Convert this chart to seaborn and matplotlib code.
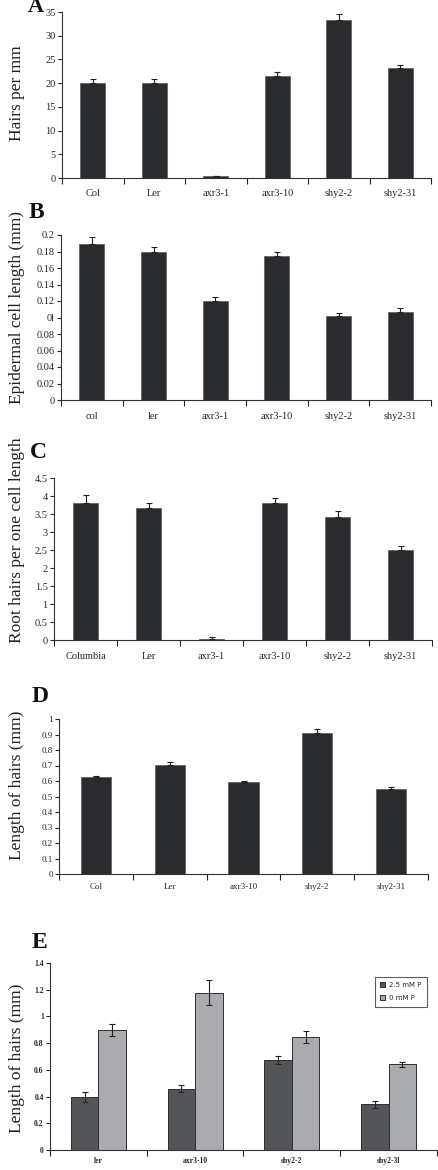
import numpy as np
import pandas as pd
import matplotlib
matplotlib.use("Agg")
import matplotlib.pyplot as plt
import seaborn as sns

sns.set_style("ticks")
plt.rcParams["font.family"] = ["Liberation Serif", "DejaVu Serif"]

# panel A: hairs per mm
a_labels = ["Col", "Ler", "axr3-1", "axr3-10", "shy2-2", "shy2-31"]
a_values = [20.0, 20.0, 0.4, 21.6, 33.4, 23.1]
a_err = [0.8, 0.8, 0.1, 0.7, 1.1, 0.7]

# panel B: epidermal cell length
b_labels = ["col", "ler", "axr3-1", "axr3-10", "shy2-2", "shy2-31"]
b_values = [0.189, 0.180, 0.120, 0.175, 0.102, 0.107]
b_err = [0.008, 0.006, 0.0045, 0.0045, 0.003, 0.0045]
b_ticks = [0, 0.02, 0.04, 0.06, 0.08, 0.1, 0.12, 0.14, 0.16, 0.18, 0.2]
b_ticklabels = ["0", "0.02", "0.04", "0.06", "0.08", "0l", "0.12", "0.14", "0.16", "0.18", "0.2"]

# panel C: root hairs per one cell length
c_labels = ["Columbia", "Ler", "axr3-1", "axr3-10", "shy2-2", "shy2-31"]
c_values = [3.80, 3.67, 0.04, 3.80, 3.42, 2.51]
c_err = [0.22, 0.13, 0.03, 0.14, 0.16, 0.10]

# panel D: length of hairs
d_labels = ["Col", "Ler", "axr3-10", "shy2-2", "shy2-31"]
d_values = [0.623, 0.706, 0.591, 0.912, 0.551]
d_err = [0.011, 0.018, 0.010, 0.021, 0.008]

# panel E: length of hairs at two phosphate levels
e_labels = ["ler", "axr3-10", "shy2-2", "shy2-3l"]
e_high = [0.395, 0.460, 0.672, 0.341]
e_high_err = [0.036, 0.028, 0.030, 0.025]
e_low = [0.900, 1.179, 0.846, 0.642]
e_low_err = [0.047, 0.090, 0.046, 0.020]
e_levels = ["2.5 mM P", "0 mM P"]

BAR = "#2a2b2f"
W, H = 438, 1170
fig = plt.figure(figsize=(W / 100, H / 100), dpi=100)


def box(left, top, right, bottom):
    return [left / W, 1 - bottom / H, (right - left) / W, (bottom - top) / H]


def style_axis(ax, n, ymax, yticks, tick_fs, pad, yticklabels=None):
    sns.despine(ax=ax)
    ax.set_xlim(-0.5, n - 0.5)
    ax.set_ylim(0, ymax)
    ax.set_yticks(yticks)
    if yticklabels is not None:
        ax.set_yticklabels(yticklabels)
    ax.set_xticks(np.arange(-0.5, n, 1), minor=True)
    ax.tick_params(axis="x", which="major", length=0, pad=pad, labelsize=tick_fs)
    ax.tick_params(axis="x", which="minor", length=4, width=0.8, direction="out")
    ax.tick_params(axis="y", length=3, width=0.8, pad=1.5, labelsize=tick_fs)
    ax.set_xlabel("")
    ax.set_ylabel("")
    for s in ("left", "bottom"):
        ax.spines[s].set_linewidth(0.8)
        ax.spines[s].set_color("#333333")


def single_panel(rect, labels, values, err, ymax, yticks, tick_fs, pad, yticklabels=None):
    ax = fig.add_axes(rect)
    sns.barplot(x=labels, y=values, color=BAR, saturation=1, width=0.41,
                edgecolor="#5a5a5e", linewidth=0.5, errorbar=None, ax=ax)
    ax.errorbar(np.arange(len(labels)), values, yerr=[np.zeros(len(err)), err],
                fmt="none", ecolor="#222222", elinewidth=0.8, capsize=2.5, capthick=0.8)
    style_axis(ax, len(labels), ymax, yticks, tick_fs, pad, yticklabels)
    return ax


def ylabel(text, ycenter, size=12.5):
    fig.text(17 / W, 1 - ycenter / H, text, rotation=90, ha="center", va="center",
             fontsize=size, color="#222222")


def letter(text, x, ybase, size=17):
    fig.text(x / W, 1 - ybase / H, text, fontsize=size, fontweight="bold",
             ha="left", va="baseline", color="#111111")


# A
single_panel(box(62, 12, 431, 178), a_labels, a_values, a_err, 35,
             np.arange(0, 36, 5), 7.5, 8)
ylabel("Hairs per mm", 93)
letter("A", 28, 12, size=16)

# B
single_panel(box(61, 235, 431, 400), b_labels, b_values, b_err, 0.2,
             b_ticks, 7.5, 8.5, b_ticklabels)
ylabel("Epidermal cell length (mm)", 308)
letter("B", 29, 218)

# C
single_panel(box(54, 478, 432, 640), c_labels, c_values, c_err, 4.5,
             np.arange(0, 4.6, 0.5), 7.5, 8.5,
             ["0", "0.5", "1", "1.5", "2", "2.5", "3", "3.5", "4", "4.5"])
ylabel("Root hairs per one cell length", 540)
letter("C", 30, 458)

# D
single_panel(box(59, 719, 428, 874), d_labels, d_values, d_err, 1.0,
             np.arange(0, 1.01, 0.1), 6.5, 6.5,
             ["0", "0.1", "0.2", "0.3", "0.4", "0.5", "0.6", "0.7", "0.8", "0.9", "1"])
ylabel("Length of hairs (mm)", 785)
letter("D", 32, 702)

# E
df_e = pd.DataFrame({
    "line": e_labels * 2,
    "length": e_high + e_low,
    "err": e_high_err + e_low_err,
    "treatment": [e_levels[0]] * len(e_labels) + [e_levels[1]] * len(e_labels),
})
ax_e = fig.add_axes(box(50, 963, 437, 1150))
sns.barplot(data=df_e, x="line", y="length", hue="treatment", hue_order=e_levels,
            palette={e_levels[0]: "#545559", e_levels[1]: "#a9abae"}, saturation=1,
            width=0.57, edgecolor="#2e2e30", linewidth=0.7, errorbar=None, ax=ax_e)
for cont, level in zip(ax_e.containers, e_levels):
    sub = df_e[df_e["treatment"] == level]
    xs = [p.get_x() + p.get_width() / 2 for p in cont.patches]
    ax_e.errorbar(xs, sub["length"].values, yerr=sub["err"].values, fmt="none",
                  ecolor="#222222", elinewidth=0.8, capsize=2.5, capthick=0.8)
style_axis(ax_e, len(e_labels), 1.4, np.arange(0, 1.41, 0.2), 5.5, 5,
           ["0", "0.2", "0.4", "0.6", "0.8", "1", "1.2", "1.4"])
for t in ax_e.get_xticklabels() + ax_e.get_yticklabels():
    t.set_fontweight("bold")
handles, _ = ax_e.get_legend_handles_labels()
ax_e.legend(handles, e_levels, loc="upper right", bbox_to_anchor=(0.984, 0.945),
            prop={"family": ["DejaVu Sans"], "size": 5}, frameon=True, fancybox=False,
            edgecolor="#333333", handlelength=0.7, handleheight=0.7, labelspacing=1.0,
            borderpad=0.8, handletextpad=0.6)
ax_e.get_legend().get_frame().set_linewidth(0.8)
ylabel("Length of hairs (mm)", 1058)
letter("E", 32, 948)

fig.savefig("out.png", dpi=100)
